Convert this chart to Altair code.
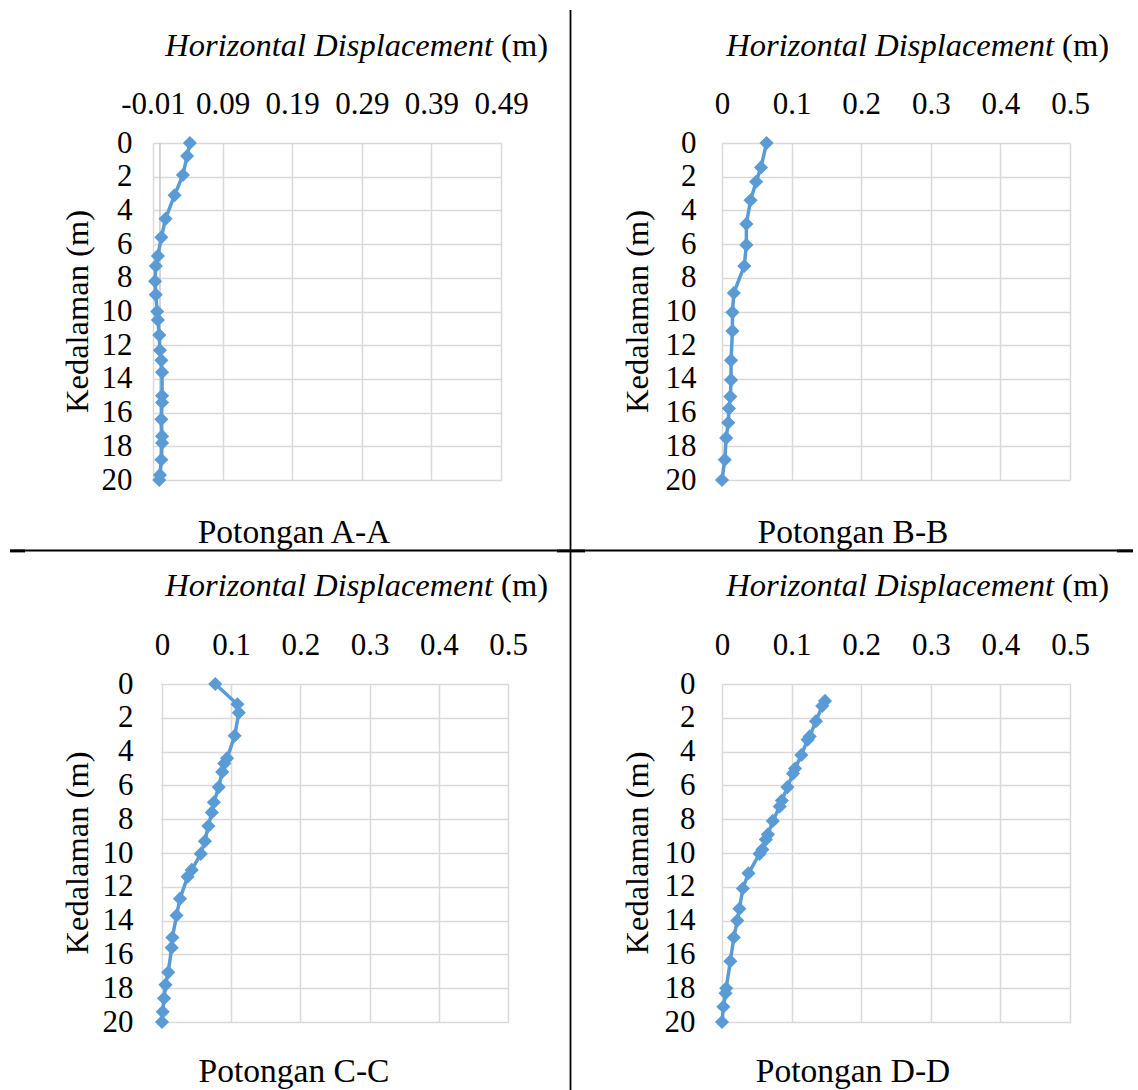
import altair as alt
import pandas as pd

FONT = "Liberation Serif"
BLUE = "#5B9BD5"
GRID = "#d9d9d9"

# ---------------- data ----------------
A_disp = [0.043, 0.039, 0.033, 0.021, 0.008, 0.002, -0.003, -0.006, -0.007, -0.006, -0.004, -0.003,
          -0.001, 0.0, 0.002, 0.003, 0.003, 0.003, 0.002, 0.003, 0.003, 0.002, 0.0, -0.001]
A_depth = [0, 0.77, 1.9, 3.1, 4.5, 5.6, 6.7, 7.3, 8.2, 9.0, 10.0, 10.5,
           11.4, 12.3, 12.9, 13.6, 15.0, 15.4, 16.4, 17.4, 17.8, 18.8, 19.7, 20]

B_disp = [0.064, 0.056, 0.049, 0.041, 0.035, 0.035, 0.032, 0.017, 0.015, 0.015, 0.013, 0.013,
          0.012, 0.010, 0.009, 0.006, 0.004, 0.0]
B_depth = [0, 1.45, 2.3, 3.4, 4.8, 6.05, 7.3, 8.9, 10.05, 11.15, 12.9, 14.06,
           15.05, 15.75, 16.6, 17.5, 18.8, 20]

C_disp = [0.077, 0.109, 0.111, 0.105, 0.094, 0.090, 0.087, 0.082, 0.075, 0.072, 0.067, 0.062,
          0.056, 0.043, 0.037, 0.026, 0.021, 0.015, 0.014, 0.009, 0.005, 0.003, 0.001, 0.0]
C_depth = [0, 1.2, 1.7, 3.06, 4.4, 4.7, 5.2, 6.1, 7.0, 7.6, 8.4, 9.3,
           10.05, 11.0, 11.4, 12.7, 13.7, 15.0, 15.6, 17.06, 17.8, 18.6, 19.4, 20]

D_disp = [0.148, 0.144, 0.135, 0.126, 0.123, 0.114, 0.105, 0.102, 0.094, 0.086, 0.083, 0.073, 0.066,
          0.063, 0.058, 0.054, 0.038, 0.030, 0.025, 0.022, 0.017, 0.012, 0.006, 0.005, 0.002, 0.0]
D_depth = [1.0, 1.3, 2.2, 3.1, 3.3, 4.2, 5.0, 5.3, 6.1, 6.9, 7.25, 8.1, 8.9,
           9.2, 9.8, 10.05, 11.2, 12.1, 13.3, 14.0, 15.0, 16.4, 18.0, 18.3, 19.1, 20]

A_xticks = [-0.01, 0.09, 0.19, 0.29, 0.39, 0.49]
std_xticks = [0, 0.1, 0.2, 0.3, 0.4, 0.5]
depth_ticks = [0, 2, 4, 6, 8, 10, 12, 14, 16, 18, 20]

x_title_it = "Horizontal Displacement"
x_title_unit = "(m)"
y_title = "Kedalaman (m)"
captions = ["Potongan A-A", "Potongan B-B", "Potongan C-C", "Potongan D-D"]

TITLE_SIZE = 32.5
CAP_SIZE = 33.5
LABEL_SIZE = 31


def one_row():
    return pd.DataFrame({"k": [0]})


def rect(x1, y1, x2, y2, ox, oy, color="black", opacity=1.0):
    return alt.Chart(one_row()).mark_rect(color=color, opacity=opacity).encode(
        x=alt.value(x1 - ox), x2=alt.value(x2 - ox),
        y=alt.value(y1 - oy), y2=alt.value(y2 - oy))


def txt(s, x, y, align="center", angle=0, italic=False, size=TITLE_SIZE):
    kw = dict(font=FONT, fontSize=size, color="black", align=align, baseline="alphabetic")
    if italic:
        kw["fontStyle"] = "italic"
    if angle:
        kw["angle"] = angle
    d = pd.DataFrame({"t": [s]})
    return alt.Chart(d).mark_text(**kw).encode(text="t:N", x=alt.value(x), y=alt.value(y))


def panel(disp, depth, caption, xticks, xdomain, ox, oy, w, h, ytx, ypad,
          xt_right, xt_base, cap_cx, cap_base, shapes, label_expr, zero_line=False,
          anchor=None, mask=None):
    df = pd.DataFrame({"x": disp, "y": depth, "i": list(range(len(disp)))})
    xenc = alt.X("x:Q", title=None,
                 scale=alt.Scale(domain=xdomain, nice=False, zero=False),
                 axis=alt.Axis(orient="top", values=xticks, grid=True, gridColor=GRID, gridWidth=1.5,
                               domain=False, ticks=False, tickSize=0, labelFont=FONT,
                               labelFontSize=LABEL_SIZE, labelColor="black", labelPadding=30,
                               labelBaseline="alphabetic", labelFlush=False, labelOverlap=False,
                               labelExpr=label_expr))
    yenc = alt.Y("y:Q", title=None,
                 scale=alt.Scale(domain=[0, 20], reverse=True, nice=False, zero=False),
                 axis=alt.Axis(values=depth_ticks, grid=True, gridColor=GRID, gridWidth=1.5,
                               domain=False, ticks=False, tickSize=0, labelFont=FONT,
                               labelFontSize=LABEL_SIZE, labelColor="black", labelPadding=ypad,
                               labelFlush=False, labelOverlap=False))
    layers = []
    if anchor is not None:
        # invisible box fixing this row's vertical extent in the layout
        layers.append(rect(anchor[0], anchor[1], anchor[2], anchor[3], ox, oy, color="white", opacity=0))
    if mask is not None:
        # hide the grid in the strip left of the first vertical gridline
        layers.append(rect(mask[0], mask[1], mask[2], mask[3], ox, oy, color="white"))
    for s in shapes:
        layers.append(rect(s[0], s[1], s[2], s[3], ox, oy))
    base = alt.Chart(df)
    if zero_line:
        layers.append(alt.Chart(one_row()).mark_rule(color="#c6c6c6", strokeWidth=1.5).encode(
            x=alt.datum(0)))
    layers.append(base.mark_line(color=BLUE, strokeWidth=3.5).encode(x=xenc, y=yenc, order="i:Q"))
    layers.append(base.mark_point(shape="diamond", filled=True, size=200, color=BLUE, opacity=1).encode(
        x=xenc, y=yenc))
    unit_w = 1.444 * TITLE_SIZE
    layers.append(txt(x_title_it, xt_right - unit_w - 0.25 * TITLE_SIZE, xt_base, align="right", italic=True))
    layers.append(txt(x_title_unit, xt_right, xt_base, align="right"))
    layers.append(txt(y_title, ytx, h / 2, angle=270))
    layers.append(txt(caption, cap_cx, cap_base, size=CAP_SIZE))
    return alt.layer(*layers).properties(width=w, height=h)


def spacer(w, h):
    return alt.Chart(one_row()).mark_rect(opacity=0).encode(
        x=alt.value(0), x2=alt.value(0), y=alt.value(0), y2=alt.value(0)).properties(width=w, height=h)


A_expr = "datum.value < 0 ? '-' + format(-datum.value, '.2f') : format(datum.value, '.2f')"
std_expr = "format(datum.value, '~g')"

HY1, HY2, HY3 = 549.6, 551.4, 552.4
YS = 553          # row split
LEFT = 153        # common left edge of the left-hand plot areas
C_zero = 162      # x of 0 in panel C
C_pxu = 692.0     # pixels per metre in panel C
C_w = 346 + (C_zero - LEFT)
C_dom = [-(C_zero - LEFT) / C_pxu, 0.5]

oA = (LEFT, 143)
oB = (722, 143)
oC = (LEFT, 684)
oD = (722, 684)

pA = panel(A_disp, A_depth, captions[0], A_xticks, [-0.01, 0.49], oA[0], oA[1], 348, 337,
           87.6 - oA[0], 21, 548 - oA[0], 56 - oA[1], 294 - oA[0], 543 - oA[1],
           [(10, HY1, 1133, HY2), (569.6, 10, 571.4, YS), (10, HY1, 25, HY3), (557, HY1, 585, HY3),
            (1117, HY1, 1133, HY3)],
           A_expr, zero_line=True, anchor=(0, 0, 60, YS))
pB = panel(B_disp, B_depth, captions[1], std_xticks, [0, 0.5], oB[0], oB[1], 348, 337,
           647.5 - oB[0], 26, 1109 - oB[0], 56 - oB[1], 853 - oB[0], 543 - oB[1],
           [], std_expr)
pC = panel(C_disp, C_depth, captions[2], std_xticks, C_dom, oC[0], oC[1], C_w, 338,
           88 - oC[0], 20, 548 - oC[0], 596 - oC[1], 294 - oC[0], 1082 - oC[1],
           [(569.6, YS, 571.4, 1090)], std_expr,
           anchor=(0, YS, 60, 1090), mask=(LEFT, 683, C_zero - 0.8, 1023.5))
pD = panel(D_disp, D_depth, captions[3], std_xticks, [0, 0.5], oD[0], oD[1], 348, 338,
           648 - oD[0], 27, 1109 - oD[0], 596 - oD[1], 853 - oD[0], 1082 - oD[1],
           [], std_expr)

row1 = alt.hconcat(spacer(oA[0], 337), pA, spacer(oB[0] - oA[0] - 348, 337), pB,
                   spacing=0, bounds="flush")
row2 = alt.hconcat(spacer(oC[0], 338), pC, spacer(oD[0] - oC[0] - C_w, 338), pD,
                   spacing=0, bounds="flush")
chart = alt.vconcat(row1, row2, spacing=0).properties(padding=0).configure_view(strokeWidth=0)

chart.save("out.html", embed_options={"renderer": "svg", "actions": False})
